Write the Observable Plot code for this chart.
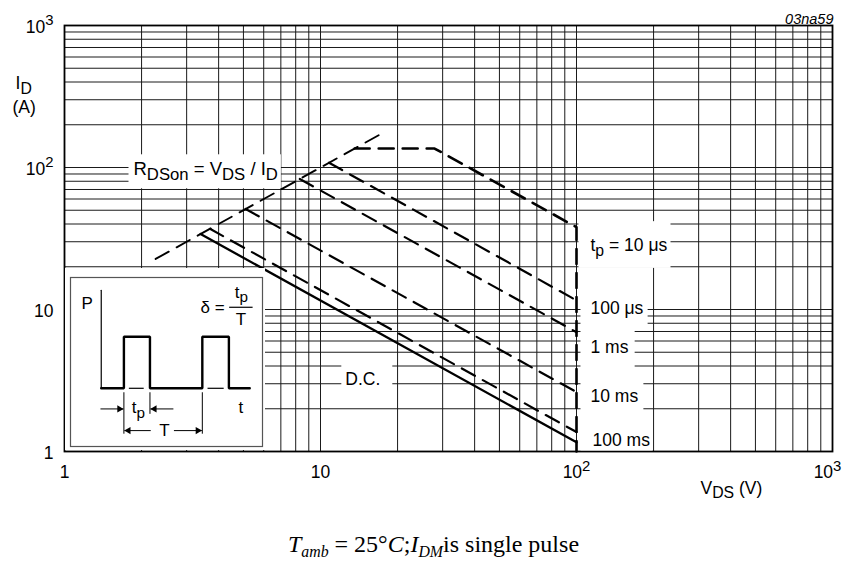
<!DOCTYPE html>
<html><head><meta charset="utf-8">
<script src="https://cdn.jsdelivr.net/npm/d3@7"></script>
<script src="https://cdn.jsdelivr.net/npm/@observablehq/plot@0.6"></script>
<style>
body{margin:0;background:#fff;}
#wrap{position:relative;width:843px;height:567px;overflow:hidden;}
#main{position:absolute;left:0;top:0;}
#inset{position:absolute;left:65px;top:268px;}
#caption{position:absolute;left:0;top:530px;width:843px;text-align:center;font-family:"Liberation Serif",serif;font-size:24px;line-height:28px;padding-left:24px;box-sizing:border-box;color:#000;}
#caption sub{font-size:0.66em;vertical-align:-0.3em;line-height:0;}
</style></head><body>
<div id="wrap"><div id="main"></div><div id="inset"></div>
<div id="caption"><i>T</i><sub><i>amb</i></sub> = 25°<i>C</i>;<i>I</i><sub><i>DM</i></sub>is single pulse</div></div>
<script>
// ---- grid / ticks ----
const gridValues = [1,2,3,4,5,6,7,8,9,10,20,30,40,50,60,70,80,90,100,200,300,400,500,600,700,800,900,1000];
const tickValues = [1,10,100,1000];
const tickLabels = ["1","10","10^{2}","10^{3}"];

// ---- safe operating area curves (V_DS in V, I_D in A) ----
const rdsonV = [2.27, 17.9];  const rdsonI = [22.7, 179];
const us10V  = [13.6, 27.9, 100, 100]; const us10I = [136, 136, 38, 1];
const us100V = [10.8, 100];   const us100I = [108, 11.6];
const ms1V   = [8.3, 100];    const ms1I   = [83, 6.92];
const ms10V  = [5.1, 100];    const ms10I  = [51, 2.62];
const ms100V = [3.7, 100];    const ms100I = [37, 1.37];
const dcV    = [3.4, 100];    const dcI    = [34, 1.16];

// ---- annotation labels ----
const labelTexts = ["R_{DSon} = V_{DS} / I_{D}", "t_{p} = 10 μs", "100 μs", "1 ms", "10 ms", "100 ms", "D.C."];
const labelV = [1.86, 113.4, 113.4, 113.4, 113.4, 115.5, 12.5];
const labelI = [97, 28.2, 10.2, 5.45, 2.46, 1.19, 3.21];

// ---- inset schematic (time units, power units) ----
const pulseT = [0, 0.87, 0.87, 1.87, 1.87, 3.88, 3.88, 4.9, 4.9, 5.7];
const pulseP = [0, 0, 1, 1, 0, 0, 1, 1, 0, 0];
const axisT = [0, 0]; const axisP = [0, 1.9];
const baseSegStart = [1.06, 4.08]; const baseSegEnd = [1.63, 4.7];
const markerT = [0.87, 1.87, 3.88]; const markerBottom = [-0.88, -0.495, -0.88];
const arrowFrom = [-0.03, 2.77, 1.9, 2.79]; const arrowTo = [0.85, 1.89, 0.89, 3.86];
const arrowP = [-0.40, -0.40, -0.82, -0.82];
const insetTexts = ["P", "t", "t_{p}", "T", "t_{p}", "T"];
const insetTextT = [-0.54, 5.36, 1.43, 2.43, 5.38, 5.36];
const insetTextP = [1.64, -0.37, -0.38, -0.82, 1.86, 1.34];

// styles
const boxPads = [[5,4,3,4],[12,14,3,9],[10,1,4,8],[10,9,6,12],[10,9,5,5],[12,15,2,0],[4,12,12,10]];

const pts = (V, I) => V.map((v, i) => ({V: v, I: I[i]}));
const labels = labelTexts.map((t, i) => ({text: t, V: labelV[i], I: labelI[i]}));
const gridStyle = {stroke: "#1a1a1a", strokeWidth: 1};
const dash = "15,9";
const fmt = d => tickLabels[tickValues.indexOf(d)];

const main = Plot.plot({
  width: 843, height: 510,
  marginLeft: 64, marginRight: 11, marginTop: 25, marginBottom: 59,
  style: {fontFamily: "'Liberation Sans', Arial, sans-serif", fontSize: "17.5px", background: "white", color: "#000"},
  x: {type: "log", domain: [1, 1000], axis: null, label: null},
  y: {type: "log", domain: [1, 1000], axis: null, label: null},
  marks: [
    Plot.ruleX(gridValues, gridStyle),
    Plot.ruleY(gridValues, gridStyle),
    Plot.frame({stroke: "#000", strokeWidth: 1.8}),
    Plot.axisX(tickValues.slice(0, 3), {tickSize: 0, tickPadding: 14, tickFormat: fmt, label: null, fill: "#000"}),
    Plot.axisX([1000], {tickSize: 0, tickPadding: 14, dx: -5, tickFormat: fmt, label: null, fill: "#000"}),
    Plot.axisY(tickValues, {tickSize: 0, tickPadding: 11, dy: 1.5, tickFormat: fmt, label: null, fill: "#000"}),
    Plot.text(["I_{D}"], {frameAnchor: "top-left", text: d => d, textAnchor: "start", dx: -49, dy: 51}),
    Plot.text(["(A)"], {frameAnchor: "top-left", text: d => d, textAnchor: "start", dx: -52, dy: 75}),
    Plot.text(["V_{DS} (V)"], {frameAnchor: "bottom-right", text: d => d, textAnchor: "start", dx: -132, dy: 42}),
    Plot.text(["03na59"], {frameAnchor: "top-right", text: d => d, textAnchor: "end", dx: 1, dy: -12, fontSize: 14.5, fontStyle: "italic"}),
    Plot.text(labels.slice(0, 1), {x: "V", y: "I", text: "text", textAnchor: "start", fill: "#000", fontSize: 18.5}),
    Plot.text(labels.slice(1), {x: "V", y: "I", text: "text", textAnchor: "start", fill: "#000"}),
    Plot.line(pts(rdsonV, rdsonI), {x: "V", y: "I", stroke: "#000", strokeWidth: 1.9, strokeDasharray: dash}),
    Plot.line(pts(us100V, us100I), {x: "V", y: "I", stroke: "#000", strokeWidth: 2.2, strokeDasharray: dash}),
    Plot.line(pts(ms1V, ms1I), {x: "V", y: "I", stroke: "#000", strokeWidth: 2.2, strokeDasharray: dash}),
    Plot.line(pts(ms10V, ms10I), {x: "V", y: "I", stroke: "#000", strokeWidth: 2.2, strokeDasharray: dash}),
    Plot.line(pts(ms100V, ms100I), {x: "V", y: "I", stroke: "#000", strokeWidth: 2.2, strokeDasharray: dash}),
    Plot.line(pts(dcV, dcI), {x: "V", y: "I", stroke: "#000", strokeWidth: 2.3}),
    Plot.line(pts(us10V, us10I), {x: "V", y: "I", stroke: "#000", strokeWidth: 2.6, strokeDasharray: dash})
  ]
});
document.getElementById("main").appendChild(main);

const inset = Plot.plot({
  width: 200, height: 182,
  marginLeft: 5, marginTop: 9, marginRight: 3, marginBottom: 4,
  style: {fontFamily: "'Liberation Sans', Arial, sans-serif", fontSize: "17px", background: "white", color: "#000"},
  x: {domain: [-1.18, 6.19], axis: null, label: null},
  y: {domain: [-1.128, 2.147], axis: null, label: null},
  marks: [
    Plot.frame({stroke: "#555", strokeWidth: 1.2}),
    Plot.line(pts(axisT, axisP), {x: "V", y: "I", stroke: "#000", strokeWidth: 1.2}),
    Plot.line(pts(pulseT, pulseP), {x: "V", y: "I", stroke: "#000", strokeWidth: 2.4, strokeLinejoin: "miter"}),
    Plot.link(baseSegStart.map((s, i) => ({a: s, b: baseSegEnd[i]})), {x1: "a", x2: "b", y1: 0, y2: 0, stroke: "#000", strokeWidth: 1.2}),
    Plot.link(markerT.map((t, i) => ({t, b: markerBottom[i]})), {x1: "t", x2: "t", y1: -0.077, y2: "b", stroke: "#000", strokeWidth: 1}),
    Plot.link(arrowFrom.map((f, i) => ({f, t: arrowTo[i], p: arrowP[i]})), {x1: "f", x2: "t", y1: "p", y2: "p", stroke: "#000", strokeWidth: 1}),
    Plot.dot(arrowFrom.map((f, i) => ({f, t: arrowTo[i], p: arrowP[i]})).filter(d => d.t > d.f), {x: "t", y: "p", symbol: "triangle", rotate: 90, r: 2.7, dx: -4, fill: "#000", stroke: "none"}),
    Plot.dot(arrowFrom.map((f, i) => ({f, t: arrowTo[i], p: arrowP[i]})).filter(d => d.t < d.f), {x: "t", y: "p", symbol: "triangle", rotate: -90, r: 2.7, dx: 4, fill: "#000", stroke: "none"}),
    Plot.text(insetTexts.map((s, i) => ({s, t: insetTextT[i], p: insetTextP[i]})), {x: "t", y: "p", text: "s", fill: "#000"}),
    Plot.text(["δ ="], {x: () => 4.74, y: () => 1.57, text: d => d, textAnchor: "end", fill: "#000"}),
    Plot.link([{a: 4.91, b: 5.81}], {x1: "a", x2: "b", y1: 1.57, y2: 1.57, stroke: "#000", strokeWidth: 1.2})
  ]
});
document.getElementById("inset").appendChild(inset);

// ---- rich text: sub/superscripts ----
const svgns = "http://www.w3.org/2000/svg";
function richify(el) {
  const s = el.textContent;
  if (!/[_^]\{/.test(s)) return;
  const fs = parseFloat(getComputedStyle(el).fontSize) || 17.5;
  while (el.firstChild) el.removeChild(el.firstChild);
  const parts = s.split(/([_^]\{[^}]*\})/).filter(p => p);
  let off = 0;
  for (const p of parts) {
    const m = p.match(/^([_^])\{([^}]*)\}$/);
    const ts = document.createElementNS(svgns, "tspan");
    let target = 0, txt = p;
    if (m) {
      const sub = m[1] === "_";
      target = sub ? 0.27 * fs : -0.42 * fs;
      txt = m[2];
      ts.setAttribute("font-size", ((sub ? 0.9 : 0.85) * fs).toFixed(1) + "px");
    }
    const d = target - off;
    if (d !== 0) ts.setAttribute("dy", d.toFixed(2));
    off = target;
    ts.textContent = txt;
    el.appendChild(ts);
  }
}
for (const svg of [main, inset]) {
  const root = svg.tagName.toLowerCase() === "svg" ? svg : svg.querySelector("svg");
  root.querySelectorAll("text").forEach(el => {
    const original = el.textContent;
    richify(el);
    const li = labelTexts.indexOf(original);
    if (li >= 0 && svg === main) {
      const bb = el.getBBox();
      const [l, t, r, b] = boxPads[li];
      const rect = document.createElementNS(svgns, "rect");
      rect.setAttribute("x", bb.x - l);
      rect.setAttribute("y", bb.y - t);
      rect.setAttribute("width", bb.width + l + r);
      rect.setAttribute("height", bb.height + t + b);
      rect.setAttribute("fill", "white");
      const tr = el.getAttribute("transform");
      if (tr) rect.setAttribute("transform", tr);
      el.parentNode.insertBefore(rect, el);
    }
  });
}
</script>
</body></html>
